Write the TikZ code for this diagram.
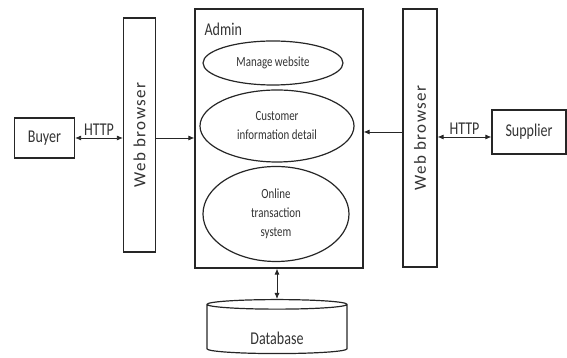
\documentclass[tikz,border=0pt]{standalone}
\usepackage{fontspec}
\setmainfont{Carlito}
\newfontfamily\tallfont{Carlito}[FakeStretch=0.78]
\usetikzlibrary{positioning,arrows.meta,shapes.geometric,calc}
\tikzset{
  >={Latex[length=6pt,width=5pt]},
  actbox/.style={draw=black!85,line width=1.2pt,inner sep=0pt,text=black!80,
    font=\tallfont\fontsize{18}{20}\selectfont},
  brbox/.style={actbox,minimum width=32pt,minimum height=#1,
    font=\fontsize{17}{19}\selectfont\addfontfeature{LetterSpace=8}},
  usecase/.style={ellipse,draw=black!85,line width=1.2pt,align=center,
    inner sep=0pt,text=black!80,font=\tallfont\fontsize{14}{19}\selectfont},
  dbcyl/.style={cylinder,shape border rotate=90,draw=black!85,line width=1.2pt,
    text=black!80,font=\tallfont\fontsize{18}{20}\selectfont},
  link/.style={line width=0.8pt,black!85},
  linklbl/.style={font=\tallfont\fontsize{18}{20}\selectfont,text=black!80,inner sep=2pt},
}
\begin{document}
\begin{tikzpicture}[x=1pt,y=1pt]
  \useasboundingbox (0,0) rectangle (567,358);
  % actors and browsers
  \node[actbox,minimum width=60pt,minimum height=40pt] (buyer) at (44.5,220) {Buyer};
  \node[brbox=234pt] (wbL) at (139.5,223) {\rotatebox{90}{Web browser}};
  \node[brbox=258pt,minimum width=34pt] (wbR) at (420,220) {\rotatebox{90}{Web browser}};
  \node[actbox,minimum width=74pt,minimum height=44pt] (supplier) at (529,226) {Supplier};
  % admin with its use cases
  \node[actbox,minimum width=168pt,minimum height=259pt,
    label={[anchor=north west,xshift=8pt,yshift=-12pt,inner sep=2pt,text=black!80,
      font=\tallfont\fontsize{18}{20}\selectfont]north west:Admin}] (admin) at (279,219.5) {};
  \node[usecase,minimum width=140pt,minimum height=44pt] (manage) at (273,295) {Manage website};
  \node[usecase,minimum width=154pt,minimum height=72pt] (custinfo) at (277,232)
    {Customer\\information detail};
  \node[usecase,minimum width=146pt,minimum height=95pt] (online) at (276,144)
    {Online\\transaction\\system};
  % database
  \node[dbcyl,aspect=0.16,minimum width=140pt,minimum height=54pt,
    text height=30pt,text depth=0pt] (db) at (277,28) {Database};
  % connectors
  \draw[link,<->] (buyer.east) -- (buyer.east -| wbL.west)
    node[linklbl,midway,above] {HTTP};
  \draw[link,->] (wbL.east |- buyer.east) -- (admin.west |- buyer.east);
  \draw[link,->] (wbR.west |- supplier.west) -- (admin.east |- supplier.west);
  \draw[link,<->] ([yshift=-5pt]supplier.west) -- ([yshift=-5pt]supplier.west -| wbR.east)
    node[linklbl,midway,above] {HTTP};
  \draw[link,<->] (db.north) -- (db.north |- admin.south);
\end{tikzpicture}
\end{document}
